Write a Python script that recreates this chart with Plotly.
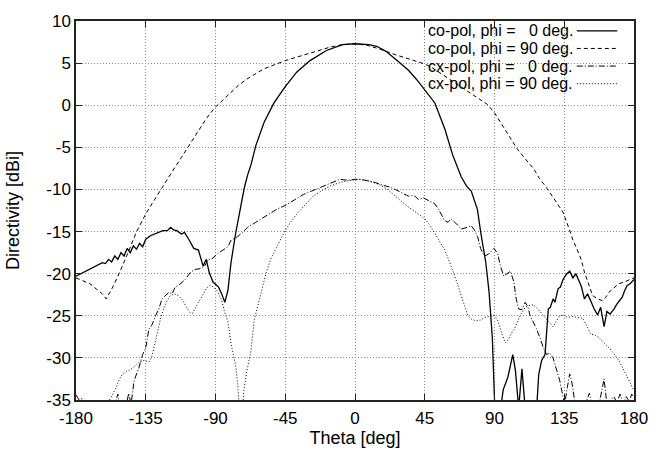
import plotly.graph_objects as go

# ---- data: theta [deg] and directivity [dBi] ----
co0_theta = [-180, -175, -170, -166, -163, -161, -159, -157, -155, -153, -151, -149, -147, -145, -143, -141,
             -139, -137, -135, -132, -128, -124, -121, -119, -117, -115, -112, -110, -107, -104, -101, -98,
             -96, -94, -91.6, -88, -86, -84, -82, -80, -77, -74.6, -71.4, -69.3, -67, -64, -58.7, -52.3,
             -45, -37.5, -29, -18.4, -8, 0, 9, 14, 20, 26, 34.5, 40, 45, 51.5, 57.9, 63, 68.5, 72, 75, 79,
             81.2, 84.4, 86.5, 88.6, 90.1, 91, 94, 95.6, 98.6, 100, 101.8, 103.5, 105.6, 107.7, 109.8, 113,
             117.2, 118.5, 120.4, 122.6, 124.7, 126, 127.8, 129, 131, 132.5, 134.2, 136.3, 138.5, 140.6,
             142.5, 144.8, 146, 148, 150, 152, 154.3, 156.5, 158.5, 160.7, 162.5, 164.5, 167.1, 169, 172.4,
             174, 175.6, 177.5, 180]
co0_dbi = [-20.3, -19.8, -19.3, -19.0, -18.7, -18.8, -18.3, -18.6, -17.9, -18.3, -17.5, -17.9, -17.0, -17.5,
           -16.7, -17.1, -16.4, -16.8, -15.9, -15.5, -15.2, -14.9, -14.9, -14.5, -14.8, -14.9, -15.3, -15.1,
           -16.0, -17.0, -17.2, -19.1, -18.3, -19.9, -21.0, -21.6, -22.4, -23.4, -22.0, -18.7, -15.2, -12.7,
           -9.8, -8.3, -7.0, -4.8, -2.05, 0.27, 2.2, 3.95, 5.3, 6.5, 7.2, 7.3, 7.2, 7.0, 6.4, 5.5, 4.15, 3.0,
           1.8, 0.27, -2.8, -5.9, -8.5, -9.6, -10.2, -12.4, -15.2, -18.7, -22.2, -27.6, -35.5, -38, -36,
           -33.8, -32.3, -31, -29.6, -31.5, -36, -31.3, -36, -38, -36, -32, -30.3, -29.6, -24.2, -24, -23.0,
           -23.4, -21.8, -21.6, -20.7, -20.1, -19.7, -20.5, -20.0, -21.0, -21.5, -23.0, -22.4, -23.2, -24.2,
           -24.9, -24.0, -26.3, -24.5, -24.8, -24.2, -23.6, -22.8, -22.0, -21.4, -21.2, -20.7]

co90_theta = [-180, -175, -171, -167, -163, -160.5, -156, -152, -148, -145.7, -141.4, -138, -135, -131,
              -128.7, -123.4, -118, -112, -106, -101, -96, -90.5, -85, -80, -75, -69, -59, -45, -31, -16,
              -8, 0, 8, 15.5, 26, 34.5, 45, 49.4, 56, 62.1, 68, 74.9, 80, 85.4, 90, 93.9, 99, 104.5, 110,
              115.1, 119, 123.6, 128, 134.2, 138, 140.6, 143, 145.9, 148, 150.1, 153.3, 156.5, 159.7, 161.8,
              163.9, 167, 170.2, 173.5, 176.6, 180]
co90_dbi = [-20.5, -20.9, -21.2, -21.8, -22.4, -23.0, -21.5, -19.9, -18.3, -17.2, -15.2, -14.0, -12.9, -11.7,
            -11.0, -9.4, -7.9, -6.2, -4.5, -3.0, -1.6, -0.3, 0.7, 1.6, 2.4, 3.2, 4.3, 5.3, 6.1, 6.9, 7.2, 7.3,
            7.1, 6.7, 6.0, 5.5, 4.9, 4.5, 3.7, 3.0, 2.2, 1.4, 0.8, 0.1, -0.9, -2.05, -3.5, -5.15, -6.4, -7.5,
            -8.7, -9.8, -11.0, -12.7, -14.6, -16.0, -17.0, -18.3, -19.8, -21.0, -22.6, -23.0, -23.2, -22.8,
            -22.2, -21.7, -21.2, -21.0, -20.8, -20.5]

cx0_theta = [-180, -178, -176, -174, -170, -160, -155, -153, -152, -148, -146, -144.5, -142.5, -139.3, -137,
             -135, -133, -131, -128.7, -126.6, -124.5, -122.3, -120, -118, -116, -113.9, -111.5, -109.6, -106,
             -103.2, -100, -97, -94.8, -92.7, -88.4, -85, -82, -79.9, -75.7, -72, -69.3, -64, -58.7, -54, -50,
             -45, -40, -36, -33.3, -28, -22.7, -17, -12, -9.8, -5, -0.4, 4, 9.1, 13.4, 18, 22, 26, 30, 34.5,
             38, 41, 44.1, 48, 51.5, 54, 57.9, 60, 62, 65, 68.5, 72.7, 74.9, 77, 79.1, 81, 83.3, 86, 89.7, 92,
             94, 96, 98, 100.3, 102.5, 104, 105.6, 107.5, 109.8, 111.5, 113, 115.1, 117, 119.3, 121.5, 123.6,
             125.5, 127.8, 130, 132.1, 133.5, 135.2, 137, 138.5, 140, 142, 145, 149, 151.2, 153, 155.5, 158,
             160.7, 162.5, 165, 167, 169, 171, 173, 175, 177, 178.5, 180]
cx0_dbi = [-34.4, -35.0, -34.8, -35.6, -36, -36, -35.5, -34.3, -36, -36, -34.2, -35.5, -32.7, -31.1, -29.6,
           -28.8, -26.6, -26.1, -25.0, -24.2, -23.0, -22.6, -22.2, -22.4, -21.6, -21.4, -21.0, -20.7, -19.8,
           -19.5, -19.4, -19.1, -18.3, -18.3, -17.6, -17.2, -16.8, -16.0, -15.6, -15.0, -14.5, -13.9, -13.3,
           -12.7, -12.3, -11.9, -11.3, -10.9, -10.6, -10.2, -9.8, -9.3, -9.0, -8.8, -8.9, -8.8, -8.8, -9.0,
           -9.2, -9.5, -9.7, -10.0, -10.4, -10.8, -10.7, -11.2, -11.0, -11.4, -11.7, -12.4, -13.7, -13.9,
           -13.5, -14.0, -14.7, -14.5, -14.3, -14.8, -15.6, -17.0, -17.9, -17.7, -17.0, -17.6, -19.2, -20.3,
           -20.0, -19.7, -21.0, -23.0, -24.2, -24.3, -23.4, -23.9, -25.0, -25.7, -26.5, -27.6, -28.8, -29.6,
           -29.4, -30.0, -31.5, -32.7, -34.0, -35.5, -33.5, -31.9, -33.0, -35.5, -36, -35.3, -34.2, -35.5,
           -36, -35, -32.5, -35.5, -35, -34.6, -35.3, -34.3, -35.5, -34.6, -35.2, -34.3, -34.7]

cx90_theta = [-162, -158.4, -156, -154.1, -152, -149.9, -147.5, -145.7, -142, -139.3, -136, -132.9, -131,
              -129.8, -128, -126.6, -125, -123.4, -121.3, -119.2, -116.5, -113.9, -111, -108.6, -106.5, -104.8,
              -102.5, -101, -99, -96, -93.7, -91, -88.4, -86, -84.2, -82, -79.9, -76.8, -75.3, -74, -73, -71.8,
              -70, -67.2, -65, -63, -60.9, -57.5, -54.5, -50, -46, -42, -37.5, -32, -26.9, -21, -16.3, -10,
              -5.7, 2.7, 9, 15.5, 21, 26, 30, 34.5, 40, 45.2, 48.5, 51.5, 54.5, 57.9, 61, 64.2, 66.5, 68.5,
              70.5, 72.7, 75, 78, 81, 84, 87.6, 90, 92, 94.5, 97.1, 99, 100.5, 103, 106.7, 109.8, 112, 115.1,
              118, 121.5, 124.5, 127.8, 130, 132, 134.2, 137, 140, 143, 146.9, 149.5, 152.2, 155, 157.5, 160.5,
              163.9, 167, 170.2, 173, 175.6, 178, 179.8]
cx90_dbi = [-37, -35, -34.2, -33.5, -32.5, -31.9, -31.6, -31.5, -31.0, -30.5, -30.3, -30.5, -29.8, -28.8,
            -27.3, -26.1, -25.0, -24.2, -23.2, -22.6, -22.4, -22.6, -23.2, -24.0, -24.6, -24.7, -23.8, -23.4,
            -22.8, -21.8, -21.4, -21.6, -22.2, -23.2, -24.5, -25.7, -28.4, -31.1, -34, -38, -38, -34, -31.8,
            -29.2, -25.5, -24.0, -22.2, -20.0, -18.3, -16.6, -15.2, -14.0, -12.9, -11.8, -10.8, -10.1, -9.6,
            -9.2, -9.0, -8.8, -9.0, -9.4, -10.0, -10.8, -11.4, -12.1, -12.8, -13.5, -14.3, -15.2, -16.1, -17.2,
            -18.6, -20.1, -21.4, -22.6, -23.8, -24.9, -25.4, -25.6, -25.5, -25.2, -25.0, -25.0, -25.5, -27.0,
            -28.2, -27.8, -27.2, -26.5, -24.9, -24.0, -23.8, -23.7, -24.2, -24.9, -25.6, -26.3, -25.6, -25.0,
            -24.9, -25.2, -25.1, -25.2, -25.3, -26.2, -27.2, -27.3, -27.6, -28.2, -28.8, -29.5, -30.3, -31.3,
            -32.3, -33.2, -33.8]

legend_labels = ["co-pol, phi =\u00a0\u00a0\u00a00 deg.", "co-pol, phi = 90 deg.",
                 "cx-pol, phi =\u00a0\u00a0\u00a00 deg.", "cx-pol, phi = 90 deg."]
x_ticks = [-180, -135, -90, -45, 0, 45, 90, 135, 180]
y_ticks = [10, 5, 0, -5, -10, -15, -20, -25, -30, -35]

FONT = "Liberation Sans, Arial, Helvetica, sans-serif"
series = [
    (co0_theta, co0_dbi, "solid", 1.3),
    (co90_theta, co90_dbi, "4px,3px", 1.0),
    (cx0_theta, cx0_dbi, "6px,2px,1px,2px", 1.0),
    (cx90_theta, cx90_dbi, "1px,2px", 1.0),
]

fig = go.Figure()
for (th, d, dash, w), name in zip(series, legend_labels):
    fig.add_trace(go.Scatter(x=th, y=d, mode="lines", name=name, showlegend=False,
                             line=dict(color="black", width=w, dash=dash)))

# key box (hides grid behind the key, like gnuplot)
shapes = [dict(type="rect", xref="paper", yref="paper", x0=0.558, x1=1.0, y0=0.80, y1=1.0,
               fillcolor="white", line=dict(width=0), layer="between")]
annotations = []
row_y = [0.9742, 0.9276, 0.8811, 0.8346]
for (th, d, dash, w), name, yy in zip(series, legend_labels, row_y):
    annotations.append(dict(xref="paper", yref="paper", x=0.894, y=yy, xanchor="right", yanchor="middle",
                            text=name, showarrow=False, font=dict(family=FONT, size=16, color="black")))
    shapes.append(dict(type="line", xref="paper", yref="paper", x0=0.8975, x1=0.970, y0=yy, y1=yy,
                       line=dict(color="black", width=w, dash=dash)))

axis_common = dict(showline=True, linecolor="#222", linewidth=1.5, mirror="ticks", ticks="inside",
                   ticklen=6, tickcolor="#222", tickwidth=1.2, showgrid=True, gridcolor="#888888",
                   griddash="1px,2px", gridwidth=1, zeroline=False, ticklabeloverflow="allow",
                   tickfont=dict(family=FONT, size=17, color="black"))

fig.update_layout(
    width=660, height=457, margin=dict(l=76, r=18, t=13, b=57),
    paper_bgcolor="white", plot_bgcolor="white",
    font=dict(family=FONT, color="black"),
    xaxis=dict(range=[-180, 180], tickvals=x_ticks, ticktext=[str(v) for v in x_ticks],
               title=dict(text="Theta [deg]", font=dict(family=FONT, size=18), standoff=2),
               ticklabelstandoff=2, **axis_common),
    yaxis=dict(range=[-35, 10], tickvals=y_ticks, ticktext=[str(v) for v in y_ticks],
               title=dict(text="Directivity [dBi]", font=dict(family=FONT, size=18), standoff=22),
               ticklabelstandoff=0, **axis_common),
    shapes=shapes, annotations=annotations,
)
fig.write_html("out.html", config={"displayModeBar": False},
               post_script="document.body.style.margin='0';")
